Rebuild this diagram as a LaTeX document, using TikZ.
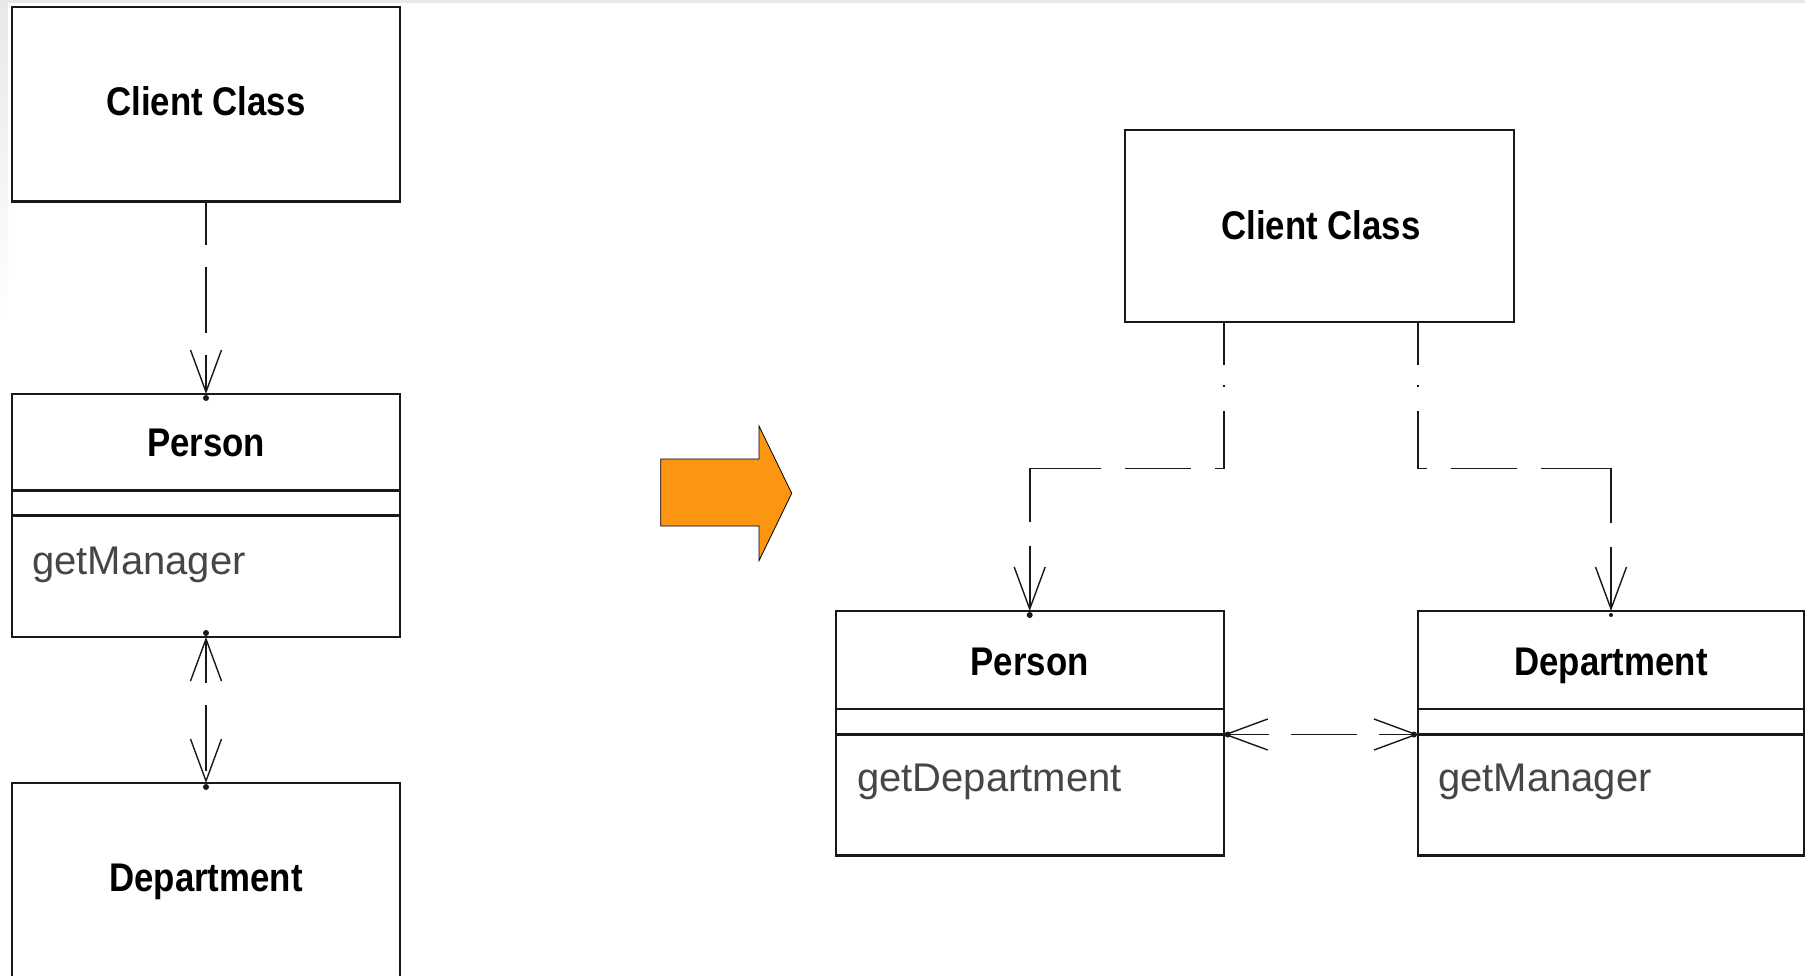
\documentclass[tikz,border=0pt]{standalone}
\usepackage{fontspec}
\setmainfont{Liberation Sans}
\usepackage{graphicx}
\usetikzlibrary{arrows.meta}
\definecolor{arroworange}{RGB}{252,150,18}
\definecolor{methodgray}{RGB}{70,70,70}
\definecolor{edgegray}{RGB}{232,232,232}
\newcommand\umltitle[1]{\scalebox{0.87}[1]{\fontsize{40}{48}\selectfont\bfseries #1}}
\newcommand\umlmethod[1]{{\fontsize{40}{48}\selectfont #1}}
\begin{document}
\begin{tikzpicture}[x=1pt,y=-1pt,
  umlbox/.style={draw=black!90, line width=2.1pt, inner sep=0pt, outer sep=0pt, minimum width=388pt},
  divider/.style={draw=black!90, line width=2.1pt},
  ttl/.style={anchor=base, inner sep=0pt},
  mth/.style={anchor=base west, inner sep=0pt, text=methodgray},
  dep/.style={draw=black!90, line width=1.6pt, dash pattern=on 66pt off 22pt, dash phase=23pt},
  branch/.style={draw=black!90, line width=1.6pt,
    dash pattern=on 43pt off 20pt on 2pt off 24pt on 66pt off 24pt on 66pt off 24pt on 125pt off 24pt on 120pt off 24pt},
  >={Straight Barb[length=42pt,width=31pt,line width=1.4pt]},
  tipdot/.style={fill=black!90},
]
\useasboundingbox (0,0) rectangle (1805,975);
% page edge tint
\fill[edgegray] (0,0) rectangle (1805,3);
\shade[top color=edgegray, bottom color=white] (0,0) rectangle (8,325);

% boxes
\node[umlbox, minimum height=194.5pt] (cc1) at (206,104.25) {};
\node[umlbox, minimum height=243pt] (p1) at (206,515.5) {};
\node[umlbox, minimum height=217pt] (d1) at (206,891.5) {};
\node[umlbox, minimum width=389pt, minimum height=192pt] (cc2) at (1319.2,226) {};
\node[umlbox, minimum height=244.5pt] (p2) at (1029.7,733.25) {};
\node[umlbox, minimum width=386pt, minimum height=244.5pt] (d2) at (1611,733.25) {};

% compartment dividers
\coordinate (ya) at (0,490.5);
\coordinate (yb) at (0,515.5);
\coordinate (yc) at (0,709);
\coordinate (dv) at (0,734.5);
\draw[divider] (p1.west |- ya) -- (p1.east |- ya);
\draw[divider] (p1.west |- yb) -- (p1.east |- yb);
\draw[divider] (p2.west |- yc) -- (p2.east |- yc);
\draw[divider] (p2.west |- dv) -- (p2.east |- dv);
\draw[divider] (d2.west |- yc) -- (d2.east |- yc);
\draw[divider] (d2.west |- dv) -- (d2.east |- dv);

% texts
\node[ttl] (cc1t) at (206,115) {\umltitle{Client Class}};
\node[ttl] (p1t) at (206,456) {\umltitle{Person}};
\node[mth] (p1m) at (32,574) {\umlmethod{getManager}};
\node[ttl] (d1t) at (206,891.5) {\umltitle{Department}};
\node[ttl] (cc2t) at (1321,239) {\umltitle{Client Class}};
\node[ttl] (p2t) at (1029.7,675) {\umltitle{Person}};
\node[mth] (p2m) at (857,791) {\umlmethod{getDepartment}};
\node[ttl] (d2t) at (1611,675) {\umltitle{Department}};
\node[mth] (d2m) at (1438,791) {\umlmethod{getManager}};

% connectors
\coordinate (hy) at (0,468.5);
\draw[dep,->] (cc1.south) -- (p1.north);
\draw[dep,<->] (p1.south) -- (d1.north);
\draw[branch,->] (cc2.south -| p2.east) -- (hy -| p2.east) -| (p2.north);
\draw[branch,->] (cc2.south -| d2.west) -- (hy -| d2.west) -| (d2.north);
\draw[dep,<->] (p2.east |- dv) -- (d2.west |- dv);

% small dots at arrow tips
\fill[tipdot] ([yshift=-4pt]p1.north) circle (3pt);
\fill[tipdot] ([yshift=4pt]p1.south) circle (3pt);
\fill[tipdot] ([yshift=-4pt]d1.north) circle (3pt);
\fill[tipdot] ([yshift=-4pt]p2.north) circle (3pt);
\fill[tipdot] ([yshift=-4pt]d2.north) circle (2pt);
\fill[tipdot] ([xshift=4pt]p2.east |- dv) circle (3pt);
\fill[tipdot] ([xshift=-4pt]d2.west |- dv) circle (3pt);

% refactoring arrow
\filldraw[fill=arroworange, draw=black, line width=0.8pt]
  (660.7,459) -- (759,459) -- (759,426) -- (791.7,493.3) -- (759,560.7) -- (759,526) -- (660.7,526) -- cycle;
\end{tikzpicture}
\end{document}
